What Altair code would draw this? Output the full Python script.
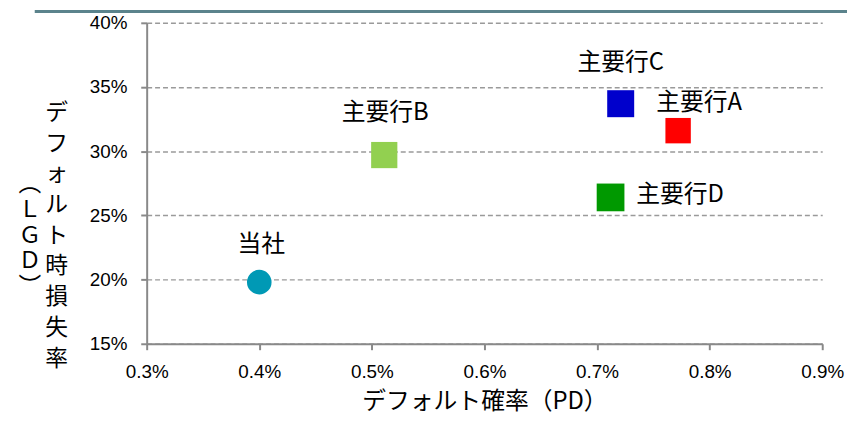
import altair as alt
import pandas as pd

names = ["当社", "主要行A", "主要行B", "主要行C", "主要行D"]
pd_vals = [0.00400, 0.00772, 0.00511, 0.00721, 0.00712]
lgd_vals = [0.198, 0.316, 0.297, 0.337, 0.264]
colors = ["#0099B5", "#FF0000", "#92D050", "#0000CC", "#009900"]
shapes = ["circle", "square", "square", "square", "square"]
sizes = [616, 784, 784, 784, 784]

x_ticks = [0.003, 0.004, 0.005, 0.006, 0.007, 0.008, 0.009]
y_ticks = [0.15, 0.20, 0.25, 0.30, 0.35, 0.40]

x_title = "デフォルト確率（PD）"
y_title_col1 = "デフォルト時損失率"
y_title_col2 = "︵ＬＧＤ︶"

df = pd.DataFrame({"name": names, "pd": pd_vals, "lgd": lgd_vals})

JP = "Noto Sans CJK JP"
NUM = "Liberation Sans"

x_enc = alt.X(
    "pd:Q",
    scale=alt.Scale(domain=[0.003, 0.009], nice=False, zero=False),
    axis=alt.Axis(
        values=x_ticks, format=".1%", grid=False,
        title=x_title, titleFont=JP, titleFontSize=24, titleFontWeight="normal",
        titleColor="#000000", titleY=58, titleBaseline="middle",
        labelFont=NUM, labelFontSize=19, labelColor="#000000", labelPadding=13,
        domainColor="#898989", domainWidth=2, tickColor="#898989", tickWidth=2, tickSize=6,
        labelFlush=False,
    ),
)
y_enc = alt.Y(
    "lgd:Q",
    scale=alt.Scale(domain=[0.15, 0.40], nice=False, zero=False),
    axis=alt.Axis(
        values=y_ticks, format=".0%", grid=True,
        gridColor="#9a9a9a", gridDash=[5, 3], gridWidth=1.5,
        title=None,
        labelFont=NUM, labelFontSize=19, labelColor="#000000", labelPadding=14,
        domainColor="#898989", domainWidth=2, tickColor="#898989", tickWidth=2, tickSize=6,
    ),
)

base = alt.Chart(df)

points = base.mark_point(filled=True, opacity=1, strokeWidth=0).encode(
    x=x_enc,
    y=y_enc,
    color=alt.Color("name:N", scale=alt.Scale(domain=names, range=colors), legend=None),
    shape=alt.Shape("name:N", scale=alt.Scale(domain=names, range=shapes), legend=None),
    size=alt.Size("name:N", scale=alt.Scale(domain=names, range=sizes), legend=None),
)

label_style = dict(font=JP, fontSize=24, color="#000000")


def label_layer(name, dx, dy, align):
    return base.transform_filter(alt.datum.name == name).mark_text(
        dx=dx, dy=dy, align=align, baseline="middle", **label_style
    ).encode(x="pd:Q", y="lgd:Q", text="name:N")


lab_self = label_layer("当社", 2, -37, "center")
lab_b = label_layer("主要行B", 1, -42, "center")
lab_c = label_layer("主要行C", 0, -41, "center")
lab_a = label_layer("主要行A", -22, -28, "left")
lab_d = label_layer("主要行D", 26, -2, "left")

title_df = pd.DataFrame({"t": ["\n".join(y_title_col1), "\n".join(y_title_col2)],
                         "col": ["c1", "c2"]})
ytitle1 = alt.Chart(title_df).transform_filter(alt.datum.col == "c1").mark_text(
    font=JP, fontSize=23, color="#000000", lineBreak="\n", lineHeight=31,
    align="center", baseline="middle"
).encode(x=alt.value(-91), y=alt.value(91), text="t:N")
ytitle2 = alt.Chart(title_df).transform_filter(alt.datum.col == "c2").mark_text(
    font=JP, fontSize=23, color="#000000", lineBreak="\n", lineHeight=26,
    align="center", baseline="middle"
).encode(x=alt.value(-118), y=alt.value(163), text="t:N")

top_bar = alt.Chart(pd.DataFrame({"k": [0]})).mark_rule(
    color="#5b838c", strokeWidth=3
).encode(x=alt.value(-113), x2=alt.value(720), y=alt.value(-11.5))

chart = alt.layer(
    top_bar, points, lab_self, lab_b, lab_c, lab_a, lab_d, ytitle1, ytitle2
).properties(
    width=682, height=324,
    autosize=alt.AutoSizeParams(type="none"),
    padding={"left": 140, "top": 13, "right": 25, "bottom": 75},
).configure_view(stroke=None)

chart.save("out.html", embed_options={"renderer": "svg", "actions": False})
